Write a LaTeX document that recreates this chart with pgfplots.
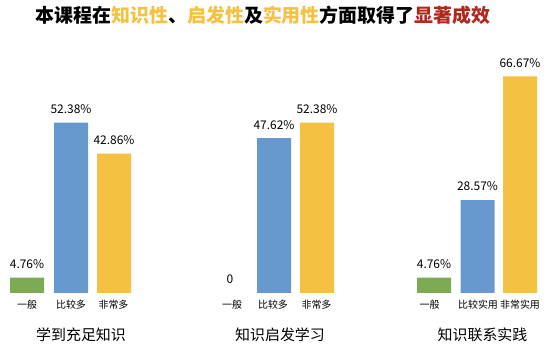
\documentclass[border=0pt]{standalone}
\usepackage{pgfplots}
\pgfplotsset{compat=1.18}
\usepackage{fontspec}
\setmainfont{Noto Sans CJK SC}
\newfontfamily\titlefont{Noto Sans CJK SC Black}
\definecolor{cgreen}{RGB}{125,170,85}
\definecolor{cblue}{RGB}{104,153,206}
\definecolor{cyellow}{RGB}{245,193,66}
\definecolor{cred}{RGB}{175,40,30}
\begin{document}
\begin{tikzpicture}
\useasboundingbox (0,0) rectangle (554bp,354bp);
\begin{axis}[
  at={(0,0)}, anchor=south west,
  width=554bp, height=354bp, scale only axis,
  xmin=0, xmax=554, ymin=-18.77, ymax=90.15,
  axis lines=none, clip=false,
  nodes near coords, point meta=explicit symbolic,
  every node near coord/.append style={font=\fontsize{12}{14}\selectfont, text=black, yshift=5.5bp},
]
\addplot[ybar, bar shift=0pt, bar width=34, fill=cgreen, draw=none]
  coordinates {(27,4.76) [4.76\%] (434,4.76) [4.76\%]};
\addplot[only marks, mark=none]
  coordinates {(230,0) [0]};
\addplot[ybar, bar shift=0pt, bar width=34, fill=cblue, draw=none]
  coordinates {(71,52.38) [52.38\%] (274,47.62) [47.62\%] (477.5,28.57) [28.57\%]};
\addplot[ybar, bar shift=0pt, bar width=34, fill=cyellow, draw=none]
  coordinates {(114,42.86) [42.86\%] (317,52.38) [52.38\%] (520,66.67) [66.67\%]};

% title
\node[font=\fontsize{19}{22}\selectfont\titlefont] at (axis cs:263,85.3)
  {本课程在\textcolor{cyellow}{知识性}、\textcolor{cyellow}{启发性}及\textcolor{cyellow}{实用性}方面取得了\textcolor{cred}{显著成效}};

% category labels
\begin{scope}[every node/.style={font=\fontsize{10}{12}\selectfont}]
\node at (axis cs:27,-3.69) {一般};
\node at (axis cs:71,-3.69) {比较多};
\node at (axis cs:113.5,-3.69) {非常多};
\node at (axis cs:232,-3.69) {一般};
\node at (axis cs:273,-3.69) {比较多};
\node at (axis cs:316.5,-3.69) {非常多};
\node at (axis cs:429.5,-3.69) {一般};
\node at (axis cs:478,-3.69) {比较实用};
\node at (axis cs:520,-3.69) {非常实用};
\end{scope}

% group labels
\begin{scope}[every node/.style={font=\fontsize{15}{18}\selectfont}]
\node at (axis cs:81,-12.92) {学到充足知识};
\node at (axis cs:280,-12.92) {知识启发学习};
\node at (axis cs:482.5,-12.92) {知识联系实践};
\end{scope}
\end{axis}
\end{tikzpicture}
\end{document}
